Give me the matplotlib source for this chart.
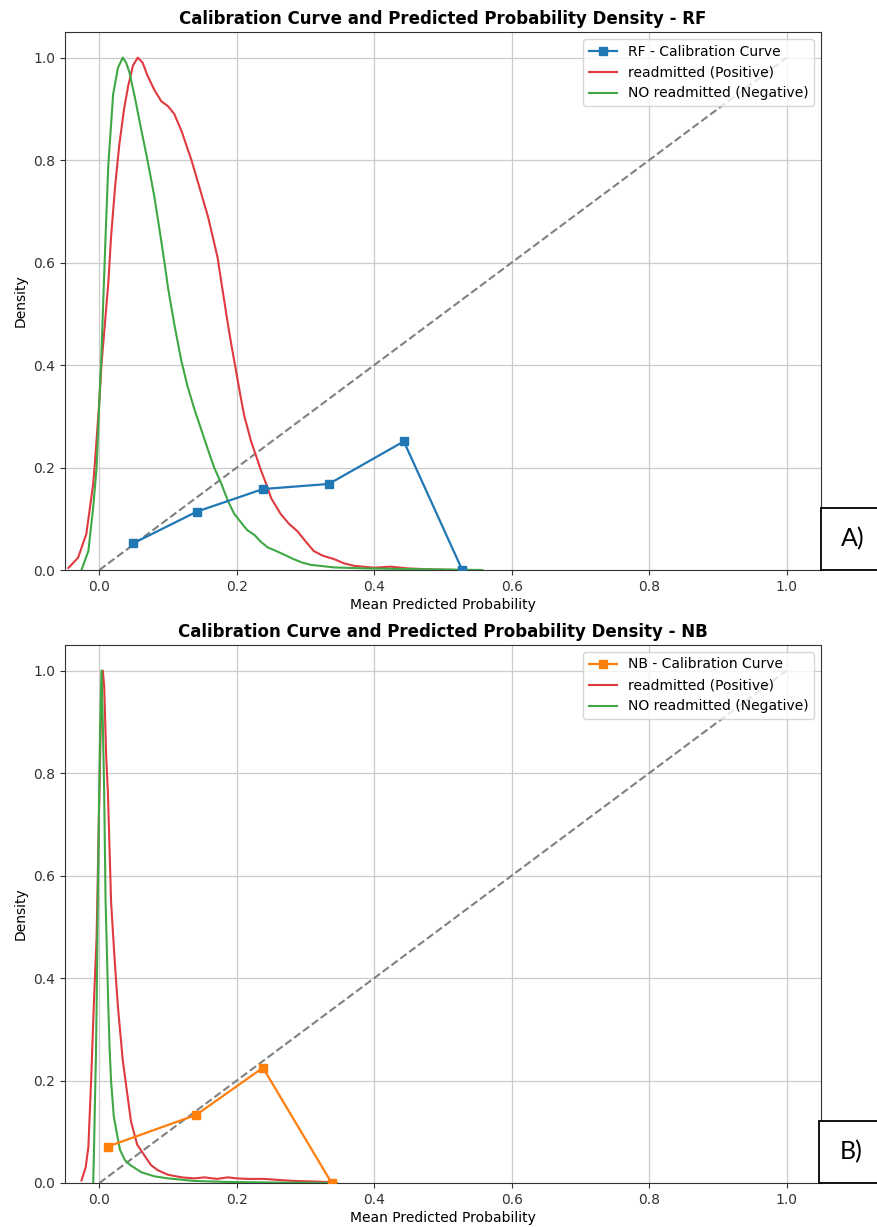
import matplotlib
matplotlib.use("Agg")
import matplotlib.pyplot as plt
from matplotlib.patches import Rectangle

# ---------------- data ----------------
rf_cal_x = [0.049, 0.142, 0.238, 0.334, 0.443, 0.528]
rf_cal_y = [0.052, 0.114, 0.158, 0.168, 0.251, 0.0]

nb_cal_x = [0.012, 0.141, 0.238, 0.338]
nb_cal_y = [0.071, 0.133, 0.225, 0.0]

rf_pos_x = [-0.045, -0.031, -0.019, -0.009, -0.007, 0.0, 0.003, 0.008, 0.013, 0.017,
            0.023, 0.029, 0.036, 0.042, 0.049, 0.056, 0.063, 0.07, 0.08, 0.09,
            0.1, 0.109, 0.12, 0.134, 0.146, 0.158, 0.172, 0.18, 0.187, 0.192,
            0.2, 0.206, 0.211, 0.221, 0.23, 0.235, 0.245, 0.25, 0.264, 0.276,
            0.288, 0.3, 0.312, 0.325, 0.342, 0.356, 0.371, 0.4, 0.424, 0.45,
            0.486, 0.52]
rf_pos_y = [0.004, 0.024, 0.07, 0.168, 0.2, 0.33, 0.40, 0.48, 0.56, 0.65,
            0.75, 0.83, 0.90, 0.945, 0.985, 1.0, 0.99, 0.965, 0.937, 0.915,
            0.905, 0.89, 0.855, 0.80, 0.745, 0.69, 0.61, 0.54, 0.48, 0.44,
            0.38, 0.335, 0.30, 0.25, 0.215, 0.195, 0.16, 0.14, 0.109, 0.09,
            0.076, 0.056, 0.037, 0.028, 0.021, 0.013, 0.008, 0.0045, 0.0065, 0.003,
            0.001, 0.0]

rf_neg_x = [-0.026, -0.016, -0.009, -0.004, 0.0, 0.003, 0.005, 0.009, 0.013, 0.02,
            0.027, 0.034, 0.039, 0.044, 0.052, 0.061, 0.07, 0.08, 0.088, 0.095,
            0.1, 0.109, 0.119, 0.128, 0.138, 0.148, 0.158, 0.167, 0.177, 0.187,
            0.196, 0.206, 0.215, 0.226, 0.235, 0.245, 0.254, 0.264, 0.283, 0.296,
            0.308, 0.342, 0.39, 0.44, 0.5, 0.557]
rf_neg_y = [0.0, 0.037, 0.122, 0.2, 0.33, 0.42, 0.50, 0.65, 0.79, 0.928,
            0.98, 1.0, 0.99, 0.97, 0.92, 0.859, 0.80, 0.729, 0.66, 0.598,
            0.55, 0.48, 0.41, 0.36, 0.315, 0.275, 0.235, 0.2, 0.17, 0.135,
            0.11, 0.093, 0.078, 0.068, 0.055, 0.044, 0.039, 0.033, 0.021, 0.014,
            0.01, 0.005, 0.003, 0.002, 0.001, 0.0]

nb_pos_x = [-0.026, -0.02, -0.016, -0.012, -0.008, -0.004, 0.0, 0.003, 0.005, 0.007,
            0.01, 0.0125, 0.017, 0.022, 0.027, 0.034, 0.039, 0.046, 0.055, 0.065,
            0.075, 0.085, 0.1, 0.12, 0.138, 0.153, 0.171, 0.187, 0.2, 0.216,
            0.24, 0.26, 0.283, 0.31, 0.33, 0.345]
nb_pos_y = [0.005, 0.03, 0.07, 0.2, 0.35, 0.48, 0.76, 0.95, 1.0, 0.97,
            0.83, 0.76, 0.55, 0.44, 0.344, 0.24, 0.19, 0.12, 0.075, 0.055,
            0.035, 0.025, 0.016, 0.011, 0.009, 0.011, 0.008, 0.011, 0.009, 0.008,
            0.008, 0.006, 0.004, 0.003, 0.002, 0.0]

nb_neg_x = [-0.009, -0.008, -0.007, -0.005, -0.004, -0.001, 0.001, 0.003, 0.005, 0.007,
            0.009, 0.011, 0.013, 0.015, 0.017, 0.021, 0.025, 0.03, 0.037, 0.045,
            0.061, 0.08, 0.1, 0.138, 0.187, 0.25, 0.345]
nb_neg_y = [0.0, 0.05, 0.12, 0.25, 0.344, 0.69, 0.88, 1.0, 0.9, 0.762,
            0.553, 0.45, 0.344, 0.26, 0.2, 0.13, 0.1, 0.065, 0.045, 0.035,
            0.021, 0.013, 0.009, 0.004, 0.002, 0.001, 0.0]

models = ["RF", "NB"]
panel_tags = ["A)", "B)"]
cal_colors = ["#1f77b4", "#ff7f0e"]
diag = [0, 1]
xticks = [0.0, 0.2, 0.4, 0.6, 0.8, 1.0]
yticks = [0.0, 0.2, 0.4, 0.6, 0.8, 1.0]

# ---------------- figure ----------------
W, H = 877, 1227
fig = plt.figure(figsize=(W / 100, H / 100), dpi=100)

def fx(px):
    return px / W

def fy(py):
    return 1 - py / H

axes_boxes = [(65, 32, 821, 570), (65, 645, 821, 1183)]
tag_boxes = [(821, 508, 570), (819, 1121, 1183)]

data = [
    (rf_cal_x, rf_cal_y, rf_pos_x, rf_pos_y, rf_neg_x, rf_neg_y),
    (nb_cal_x, nb_cal_y, nb_pos_x, nb_pos_y, nb_neg_x, nb_neg_y),
]

red = "#de3a3f"
green = "#3fa845"

for i, (l, t, r, b) in enumerate(axes_boxes):
    ax = fig.add_axes([fx(l), fy(b), fx(r) - fx(l), fy(t) - fy(b)])
    cx, cy, px_, py_, nx_, ny_ = data[i]
    ax.plot(diag, diag, linestyle="--", color="gray", lw=1.5, zorder=2)
    ax.plot(cx, cy, marker="s", color=cal_colors[i], lw=1.6, markersize=6,
            label=f"{models[i]} - Calibration Curve", zorder=4)
    ax.plot(px_, py_, color=red, lw=1.5, label="readmitted (Positive)", zorder=3)
    ax.plot(nx_, ny_, color=green, lw=1.5, label="NO readmitted (Negative)", zorder=3)
    ax.set_xlim(-0.05, 1.05)
    ax.set_ylim(0, 1.05)
    ax.set_xticks(xticks)
    ax.set_yticks(yticks)
    ax.tick_params(labelsize=10, colors="#333333")
    ax.grid(True, color="#cccccc", lw=0.9)
    ax.set_axisbelow(True)
    for s in ax.spines.values():
        s.set_color("#333333")
    ax.set_title(f"Calibration Curve and Predicted Probability Density - {models[i]}",
                 fontsize=12, fontweight="bold", pad=6)
    ax.set_xlabel("Mean Predicted Probability", fontsize=10, labelpad=3)
    ax.set_ylabel("Density", fontsize=10)
    ax.legend(loc="upper right", fontsize=10, framealpha=0.8)

    bl, bt, bb = tag_boxes[i]
    rect = Rectangle((fx(bl), fy(bb)), fx(W + 5) - fx(bl), fy(bt) - fy(bb),
                     transform=fig.transFigure, facecolor="white",
                     edgecolor="black", lw=1.3, zorder=10, clip_on=False)
    fig.patches.append(rect)
    fig.text((fx(bl) + 1) / 2 + 0.004, (fy(bt) + fy(bb)) / 2, panel_tags[i],
             fontsize=18, family="Lato", ha="center", va="center", zorder=11)

fig.savefig("out.png", dpi=100)
